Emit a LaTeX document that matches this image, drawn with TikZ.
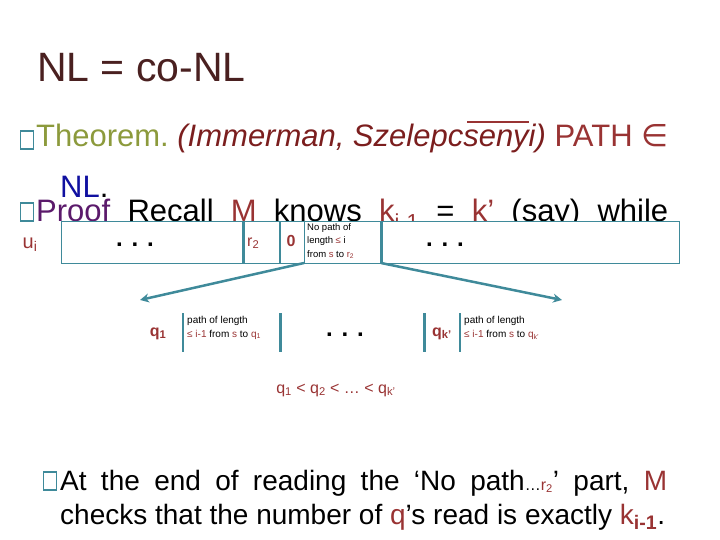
\documentclass[tikz,border=0pt]{standalone}
\usepackage{fontspec}
\setmainfont{Liberation Sans}
\usetikzlibrary{arrows.meta}
\definecolor{teal}{HTML}{3F8A9A}
\definecolor{rb}{HTML}{993333}
\definecolor{olv}{HTML}{8C9A3C}
\definecolor{itr}{HTML}{7B1E1E}
\definecolor{nlb}{HTML}{1010A0}
\definecolor{purp}{HTML}{5B1A6B}
\definecolor{ttl}{HTML}{4A2020}
\begin{document}
\begin{tikzpicture}[x=1pt,y=-1pt,
  txt/.style={anchor=base west,inner sep=0pt,font=\fontsize{28}{30}\selectfont},
  big/.style={anchor=base west,inner sep=0pt,font=\fontsize{31}{33}\selectfont},
  sm/.style={anchor=north west,inner sep=0pt,font=\fontsize{10}{12}\selectfont,align=left},
  md/.style={anchor=base,inner sep=0pt,font=\fontsize{24}{26}\selectfont},
  bul/.style={draw=teal,line width=1.2pt,minimum width=13pt,minimum height=18pt,inner sep=0pt},
  conn/.style={teal,line width=2.5pt,-{Stealth[length=9pt,width=9pt]}}]
\useasboundingbox (0,0) rectangle (720,540);
\node[anchor=base west,inner sep=0pt,text=ttl,font=\fontsize{41}{44}\selectfont] (title) at (37,82) {NL = co-NL};
% theorem line
\node[bul] (b1) at (27,140) {};
\node[big] (thm) at (36,147) {\hbox to 632pt{\color{olv}Theorem.\hfill\color{itr}\itshape(Immerman,\hfill Szelepcsenyi)\hfill\color{rb}\upshape PATH\hfill\fontspec{DejaVu Sans}∈}};
\draw[rb,line width=2pt] (467,122) -- (529,122);
\node[big,text=nlb] (nl) at (60,197) {NL\textcolor{black}{.}};
% proof line
\node[bul] (b2) at (27,212) {};
\node[big] (prf) at (36,222) {\hbox to 632pt{\color{purp}Proof\hfill\color{black}Recall\hfill\color{rb}M\hfill\color{black}knows\hfill\color{rb}k\textsubscript{i-1}\hfill\color{black}=\hfill\color{rb}k’\hfill\color{black}(say)\hfill while}};
% box
\fill[white] (61,222) rectangle (679,263);
\draw[teal,line width=1pt] (61,222) rectangle (679,263);
\coordinate (d1t) at (243,222); \coordinate (d1b) at (243,263);
\coordinate (d2t) at (280,222); \coordinate (d2b) at (280,263);
\coordinate (d3t) at (304,222); \coordinate (d3b) at (304,263);
\coordinate (d4t) at (381,222); \coordinate (d4b) at (381,263);
\draw[teal,line width=3pt] (d1t) -- (d1b);
\draw[teal,line width=2pt] (d2t) -- (d2b);
\draw[teal,line width=1pt] (d3t) -- (d3b);
\draw[teal,line width=3pt] (d4t) -- (d4b);
\node[anchor=base,inner sep=0pt,text=rb,font=\fontsize{20}{22}\selectfont] (ui) at (30,248) {u\textsubscript{i}};
\node[md] (dots1) at (135,246) {\textbf{. . .}};
\node[anchor=base west,inner sep=0pt,text=rb,font=\fontsize{16}{18}\selectfont] (r2) at (247,246) {r\textsubscript{2}};
\node[anchor=base,inner sep=0pt,text=rb,font=\bfseries\fontsize{16}{18}\selectfont] (zero) at (291,246) {0};
\node[sm,font=\fontsize{9.5}{13.5}\selectfont] (np) at (307,223) {No path of\\length \textcolor{rb}{≤} i\\from \textcolor{rb}{s} to \textcolor{rb}{r\textsubscript{2}}};
\node[md] (dots2) at (445,246) {\textbf{. . .}};
% arrows
\draw[conn] (d3b) -- (140,300);
\draw[conn] (d4b) -- (562,300);
% lower row
\node[anchor=base,inner sep=0pt,text=rb,font=\bfseries\fontsize{16}{18}\selectfont] (q1) at (158,336) {q\textsubscript{1}};
\draw[teal,line width=2pt] (183,313) -- (183,352);
\node[sm,font=\fontsize{10}{14}\selectfont] (p1) at (187,316) {path of length\\\textcolor{rb}{≤ i-1} from \textcolor{rb}{s} to \textcolor{rb}{q\textsubscript{1}}};
\draw[teal,line width=3pt] (280,313) -- (280,352);
\node[md] (dots3) at (345,336) {\textbf{. . .}};
\draw[teal,line width=3pt] (424,313) -- (424,352);
\node[anchor=base,inner sep=0pt,text=rb,font=\bfseries\fontsize{16}{18}\selectfont] (qk) at (442,336) {q\textsubscript{k’}};
\draw[teal,line width=1.5pt] (460,313) -- (460,352);
\node[sm,font=\fontsize{10}{14}\selectfont] (p2) at (464,316) {path of length\\\textcolor{rb}{≤ i-1} from \textcolor{rb}{s} to \textcolor{rb}{q\textsubscript{k’}}};
\node[anchor=base,inner sep=0pt,font=\fontsize{16}{18}\selectfont,text=rb] (ord) at (336,393) {q\textsubscript{1} < q\textsubscript{2} < … < q\textsubscript{k’}};
% bottom
\node[bul] (b3) at (50,481) {};
\node[txt] (l1) at (60,490) {\hbox to 607pt{At\hfill the\hfill end\hfill of\hfill reading\hfill the\hfill ‘No\hfill path\fontsize{16}{18}\selectfont…\textcolor{rb}{r\textsubscript{2}}\fontsize{28}{30}\selectfont’\hfill part,\hfill\textcolor{rb}{M}}};
\node[txt] (l2) at (60,524) {checks that the number of \textcolor{rb}{q}’s read is exactly \textcolor{rb}{k\textsubscript{\textbf{i-1}}}.};
\end{tikzpicture}
\end{document}
